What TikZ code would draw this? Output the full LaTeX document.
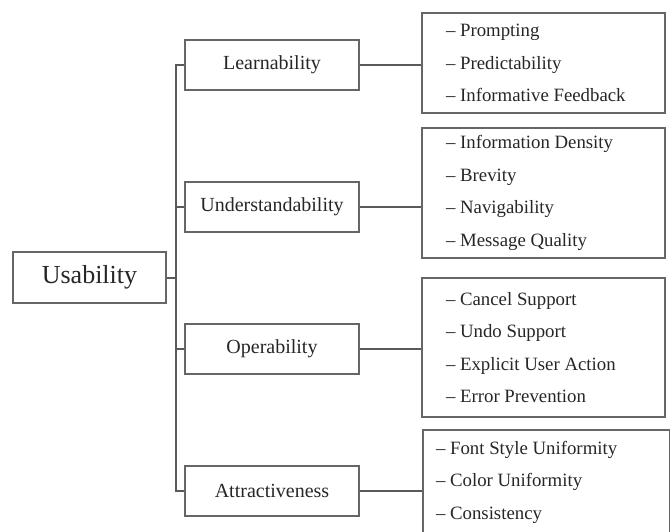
\documentclass[tikz,border=0pt]{standalone}
\usepackage{fontspec}
\setmainfont{Liberation Serif}
\usetikzlibrary{positioning}

\tikzset{
  box/.style={draw=black!60, line width=1pt, text=black!85, inner sep=0pt,
    minimum width=87pt, minimum height=25pt, font=\fontsize{10}{11}\selectfont},
  listbox/.style={draw=black!60, line width=1pt, text=black!85, anchor=west,
    align=flush left, inner xsep=12pt, inner ysep=0pt, text width=97.5pt,
    font=\fontsize{9.4}{16.25}\selectfont},
  link/.style={draw=black!65, line width=1pt}
}

\begin{document}
\begin{tikzpicture}[x=0.5pt, y=-0.5pt]
  \useasboundingbox (0,0) rectangle (670,531);
  \clip (0,0) rectangle (670,531);
  % Define nodes
  \node[box, minimum width=76.5pt, minimum height=25.5pt,
    font=\fontsize{13}{15}\selectfont] (usab) at (89.5,277.5) {Usability};
  \coordinate (trunk) at ([xshift=4.5pt]usab.east);
  \node[box] (learn) at (272,65) {Learnability};
  \node[box, below=45pt of learn] (under) {Understandability};
  \node[box, below=45pt of under] (oper) {Operability};
  \node[box, below=45pt of oper] (attr) {Attractiveness};
  % Sub-criteria lists
  \node[listbox, minimum height=50pt] (l1) at (421,63)
    {-- Prompting\\ -- Predictability\\ -- Informative Feedback};
  \node[listbox, minimum height=65pt] (l2) at (421,193)
    {-- Information Density\\ -- Brevity\\ -- Navigability\\ -- Message Quality};
  \node[listbox, minimum height=69.5pt] (l3) at (421,347.5)
    {-- Cancel Support\\ -- Undo Support\\ -- Explicit User Action\\ -- Error Prevention};
  \node[listbox, minimum height=52pt, inner xsep=6.5pt, text width=110.5pt] (l4) at (422,482)
    {-- Font Style Uniformity\\ -- Color Uniformity\\ -- Consistency};
  % Connect the nodes
  \draw[link] (usab.east) -- (trunk);
  \draw[link] (learn.west) -| (trunk) |- (attr.west);
  \foreach \n in {under,oper}
    \draw[link] (trunk |- \n.west) -- (\n.west);
  \foreach \a/\b in {learn/l1, under/l2, oper/l3, attr/l4}
    \draw[link] (\a.east) -- (\a.east -| \b.west);
\end{tikzpicture}
\end{document}
